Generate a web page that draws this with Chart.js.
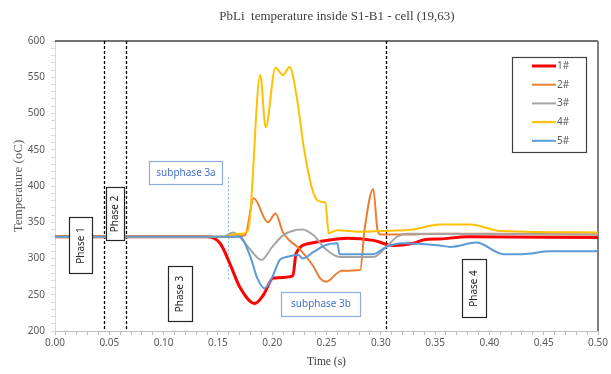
<!DOCTYPE html>
<html>
<head>
<meta charset="utf-8">
<script src="https://cdn.jsdelivr.net/npm/chart.js@4.4.0/dist/chart.umd.min.js"></script>
<style>
  html, body { margin: 0; padding: 0; background: #fff; }
</style>
</head>
<body>
<canvas id="grafico" width="611" height="374"></canvas>
<script>
// valores (tempo em s, temperatura em oC)
const tempo1 = [0, 0.14, 0.152, 0.161, 0.17, 0.184, 0.192, 0.201, 0.219, 0.222, 0.235, 0.25, 0.269, 0.293, 0.311, 0.33, 0.34, 0.354, 0.38, 0.5];
const temp1  = [330, 330, 321, 293, 261, 238, 250, 273, 276, 307, 321, 325, 328, 325, 318, 321, 326, 327, 330, 329];

const tempo2 = [0, 0.16, 0.175, 0.183, 0.196, 0.203, 0.21, 0.226, 0.238, 0.244, 0.25, 0.26, 0.264, 0.281, 0.285, 0.293, 0.297, 0.30, 0.32, 0.35, 0.40, 0.5];
const temp2  = [330, 330, 332, 383, 350, 362, 336, 312, 289, 273, 268, 280, 283, 284, 339, 396, 339, 333, 333, 334, 334, 333];

const tempo3 = [0, 0.155, 0.164, 0.17, 0.18, 0.19, 0.2, 0.21, 0.228, 0.238, 0.25, 0.262, 0.293, 0.305, 0.315, 0.324, 0.5];
const temp3  = [330, 330, 336, 330, 312, 298, 316, 332, 340, 332, 312, 302, 302, 316, 330, 334, 333];

const tempo4 = [0, 0.158, 0.164, 0.172, 0.178, 0.189, 0.194, 0.203, 0.21, 0.216, 0.223, 0.229, 0.238, 0.246, 0.249, 0.252, 0.26, 0.28, 0.30, 0.33, 0.354, 0.382, 0.41, 0.5];
const temp4  = [330, 330, 333, 334, 340, 553, 481, 563, 553, 564, 519, 454, 390, 378, 377, 335, 339, 337, 338, 340, 347, 347, 338, 336];

const tempo5 = [0, 0.17, 0.18, 0.186, 0.193, 0.2, 0.207, 0.213, 0.224, 0.228, 0.238, 0.25, 0.26, 0.262, 0.293, 0.305, 0.32, 0.354, 0.364, 0.388, 0.413, 0.43, 0.456, 0.5];
const temp5  = [330, 330, 302, 274, 259, 274, 298, 302, 305, 300, 309, 319, 321, 306, 306, 316, 321, 318, 316, 322, 306, 306, 310, 310];

const nomes = ['1#', '2#', '3#', '4#', '5#'];
const cores = ['#ff0000', '#ed7d31', '#a5a5a5', '#ffc000', '#5b9bd5'];

// linhas das fases e caixas de texto
const linhasFase = [0.045, 0.065, 0.305];
const caixas = [
    { texto: 'Phase 1', x0: 0.0129, x1: 0.0341, y0: 357, y1: 280, girar: true },
    { texto: 'Phase 2', x0: 0.047, x1: 0.0635, y0: 399, y1: 326, girar: true },
    { texto: 'subphase 3a', x0: 0.0866, x1: 0.1538, y0: 434, y1: 403, azul: true },
    { texto: 'Phase 3', x0: 0.104, x1: 0.126, y0: 290, y1: 214, girar: true },
    { texto: 'subphase 3b', x0: 0.208, x1: 0.281, y0: 254, y1: 221, azul: true },
    { texto: 'Phase 4', x0: 0.375, x1: 0.397, y0: 299, y1: 219, girar: true }
];

function pares(ts, vs) {
    return ts.map((t, i) => ({ x: t, y: vs[i] }));
}

const series = [[tempo1, temp1], [tempo2, temp2], [tempo3, temp3], [tempo4, temp4], [tempo5, temp5]];

const datasets = series.map((s, i) => ({
    label: nomes[i],
    data: pares(s[0], s[1]),
    borderColor: cores[i],
    backgroundColor: cores[i],
    borderWidth: i == 0 ? 3 : 2,
    pointRadius: 0,
    cubicInterpolationMode: 'monotone',
    order: 5 - i
}));

const extras = {
    id: 'extras',
    beforeDatasetsDraw(chart) {
        const ctx = chart.ctx;
        const a = chart.chartArea;
        const sx = chart.scales.x, sy = chart.scales.y;
        ctx.save();
        // bordas
        ctx.strokeStyle = '#404040';
        ctx.lineWidth = 1.5;
        ctx.beginPath();
        ctx.moveTo(a.left, a.top);
        ctx.lineTo(a.right, a.top);
        ctx.stroke();
        ctx.strokeStyle = '#7f7f7f';
        ctx.lineWidth = 2;
        ctx.beginPath();
        ctx.moveTo(a.right, a.top);
        ctx.lineTo(a.right, a.bottom);
        ctx.stroke();
        // linhas tracejadas
        ctx.strokeStyle = '#000';
        ctx.lineWidth = 1.3;
        ctx.setLineDash([3, 2]);
        linhasFase.forEach(t => {
            const px = Math.round(sx.getPixelForValue(t)) + 0.5;
            ctx.beginPath();
            ctx.moveTo(px, a.top);
            ctx.lineTo(px, a.bottom);
            ctx.stroke();
        });
        // subphase 3a
        ctx.strokeStyle = '#8fb4de';
        ctx.lineWidth = 1.3;
        ctx.setLineDash([2, 2]);
        const p3a = Math.round(sx.getPixelForValue(0.159)) + 0.5;
        ctx.beginPath();
        ctx.moveTo(p3a, sy.getPixelForValue(412));
        ctx.lineTo(p3a, sy.getPixelForValue(270));
        ctx.stroke();
        ctx.restore();
    },
    afterDatasetsDraw(chart) {
        const ctx = chart.ctx;
        const sx = chart.scales.x, sy = chart.scales.y;
        ctx.save();
        ctx.font = '10px "Noto Sans"';
        ctx.textAlign = 'center';
        ctx.textBaseline = 'middle';
        caixas.forEach(c => {
            const x0 = Math.round(sx.getPixelForValue(c.x0)) + 0.5;
            const x1 = Math.round(sx.getPixelForValue(c.x1)) + 0.5;
            const y0 = Math.round(sy.getPixelForValue(c.y0)) + 0.5;
            const y1 = Math.round(sy.getPixelForValue(c.y1)) + 0.5;
            ctx.fillStyle = '#fff';
            ctx.fillRect(x0, y0, x1 - x0, y1 - y0);
            ctx.strokeStyle = c.azul ? '#8faadc' : '#262626';
            ctx.lineWidth = 1.2;
            ctx.strokeRect(x0, y0, x1 - x0, y1 - y0);
            ctx.fillStyle = c.azul ? '#4472c4' : '#262626';
            const cx = (x0 + x1) / 2, cy = (y0 + y1) / 2;
            if (c.girar) {
                ctx.save();
                ctx.translate(cx, cy);
                ctx.rotate(-Math.PI / 2);
                ctx.fillText(c.texto, 0, 0);
                ctx.restore();
            } else {
                ctx.fillText(c.texto, cx, cy);
            }
        });

        // legenda
        const lx = 512.5, ly = 57.5;
        ctx.fillStyle = '#fff';
        ctx.fillRect(lx, ly, 74, 95);
        ctx.strokeStyle = '#404040';
        ctx.lineWidth = 1.2;
        ctx.strokeRect(lx, ly, 74, 95);
        ctx.textAlign = 'left';
        nomes.forEach((n, i) => {
            const y = 66 + i * 18.7;
            ctx.strokeStyle = cores[i];
            ctx.lineWidth = i == 0 ? 3 : 2;
            ctx.beginPath();
            ctx.moveTo(532, y);
            ctx.lineTo(556, y);
            ctx.stroke();
            ctx.fillStyle = '#595959';
            ctx.fillText(n, 557, y);
        });

        // titulo
        ctx.fillStyle = '#404040';
        ctx.textAlign = 'center';
        ctx.font = '13px "Liberation Serif"';
        ctx.fillText('PbLi  temperature inside S1-B1 - cell (19,63)', 337, 17);
        ctx.restore();
    }
};

const config = {
    type: 'line',
    data: { datasets: datasets },
    options: {
        responsive: false,
        animation: false,
        layout: { padding: { top: 41, right: 13, left: 0, bottom: 0 } },
        plugins: {
            legend: { display: false },
            tooltip: { enabled: false }
        },
        scales: {
            x: {
                type: 'linear',
                min: 0,
                max: 0.5,
                afterFit: s => { s.height = 43; },
                border: { color: '#bfbfbf' },
                grid: { drawOnChartArea: false, tickLength: 4, color: '#bfbfbf' },
                ticks: {
                    stepSize: 0.01,
                    autoSkip: false,
                    maxRotation: 0,
                    padding: 2,
                    color: '#595959',
                    font: { family: 'Noto Sans', size: 10 },
                    callback: v => Math.round(v * 100) % 5 == 0 ? v.toFixed(2) : ''
                },
                title: {
                    display: true,
                    text: 'Time (s)',
                    color: '#404040',
                    font: { family: 'Liberation Serif', size: 11.5 },
                    padding: { top: 2, bottom: 5 }
                }
            },
            y: {
                min: 200,
                max: 600,
                afterFit: s => { s.width = 55; },
                border: { color: '#d9d9d9' },
                grid: { drawOnChartArea: false, tickLength: 4, color: '#d9d9d9' },
                ticks: {
                    stepSize: 10,
                    autoSkip: false,
                    padding: 6,
                    color: '#595959',
                    font: { family: 'Noto Sans', size: 10 },
                    callback: v => v % 50 == 0 ? v : ''
                },
                title: {
                    display: true,
                    text: 'Temperature (oC)',
                    color: '#595959',
                    font: { family: 'Liberation Serif', size: 13 },
                    padding: { top: 11, bottom: 2 }
                }
            }
        }
    },
    plugins: [extras]
};

new Chart(document.getElementById('grafico'), config);
</script>
</body>
</html>
